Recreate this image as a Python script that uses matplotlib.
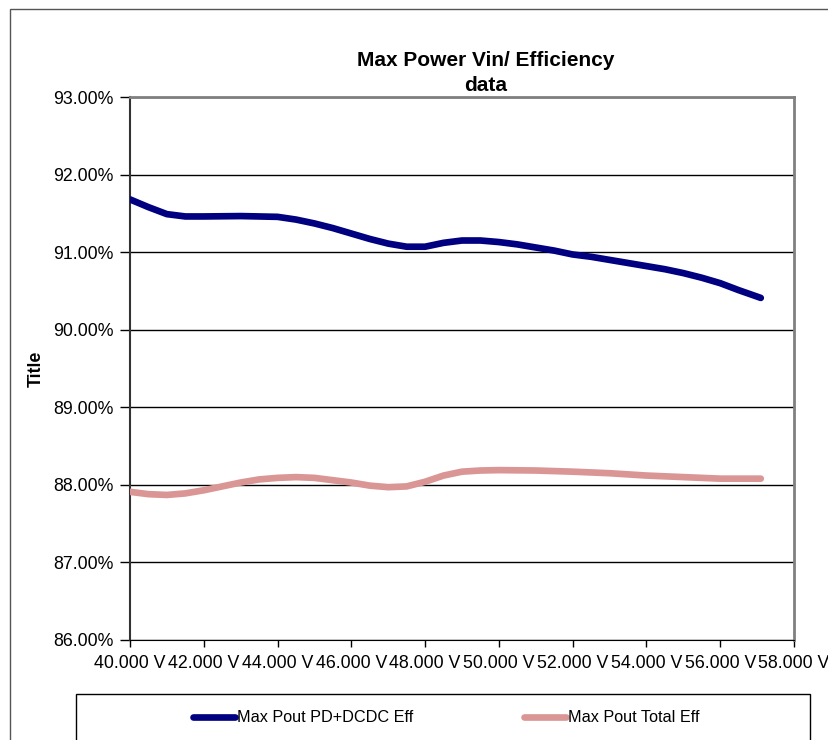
import numpy as np
import matplotlib.pyplot as plt
from matplotlib.patches import Rectangle
from matplotlib.ticker import FuncFormatter, MultipleLocator

plt.rcParams['font.family'] = ['Liberation Sans', 'DejaVu Sans']

# Vin (V) and efficiency (%)
vin_pd = [40.0, 40.5, 41.0, 41.5, 42.0, 43.0, 44.0, 44.5, 45.0, 45.5, 46.0, 46.5,
          47.0, 47.5, 48.0, 48.5, 49.0, 49.5, 50.0, 50.5, 51.0, 51.5, 52.0, 52.5,
          53.0, 53.5, 54.0, 54.5, 55.0, 55.5, 56.0, 56.5, 57.1]
eff_pd = [91.68, 91.58, 91.49, 91.46, 91.46, 91.465, 91.455, 91.42, 91.37, 91.31, 91.24, 91.17,
          91.11, 91.07, 91.07, 91.12, 91.15, 91.15, 91.13, 91.10, 91.06, 91.02, 90.97, 90.94,
          90.90, 90.86, 90.82, 90.78, 90.73, 90.67, 90.60, 90.51, 90.41]

vin_tot = [40.0, 40.5, 41.0, 41.5, 42.0, 42.5, 43.0, 43.5, 44.0, 44.5, 45.0, 45.5,
           46.0, 46.5, 47.0, 47.5, 48.0, 48.5, 49.0, 49.5, 50.0, 51.0, 52.0, 53.0,
           54.0, 55.0, 56.0, 57.1]
eff_tot = [87.91, 87.88, 87.87, 87.89, 87.93, 87.98, 88.03, 88.07, 88.09, 88.10, 88.09, 88.06,
           88.03, 87.99, 87.97, 87.98, 88.04, 88.12, 88.17, 88.185, 88.19, 88.185, 88.17, 88.15,
           88.12, 88.10, 88.08, 88.08]

W, H = 829, 740
fig = plt.figure(figsize=(W / 100, H / 100), dpi=100)

def fx(px):
    return px / W

def fy(py):
    return 1 - py / H

# outer chart border
fig.patches.append(Rectangle((fx(10), fy(760)), fx(840), fy(9) - fy(760), transform=fig.transFigure,
                             fill=False, edgecolor='#555555', lw=1.0))
# legend box
fig.patches.append(Rectangle((fx(76), fy(760)), fx(810) - fx(76), fy(694) - fy(760), transform=fig.transFigure,
                             fill=False, edgecolor='black', lw=1.0))

ax = fig.add_axes([fx(130), fy(640), fx(794) - fx(130), fy(97) - fy(640)])

ax.plot(vin_pd, eff_pd, color='#000080', lw=4.8, solid_capstyle='round', solid_joinstyle='round',
        label='Max Pout PD+DCDC Eff', zorder=3)
ax.plot(vin_tot, eff_tot, color='#DA9694', lw=4.8, solid_capstyle='round', solid_joinstyle='round',
        label='Max Pout Total Eff', zorder=3)

ax.set_xlim(40, 58)
ax.set_ylim(86, 93)
ax.xaxis.set_major_locator(MultipleLocator(2))
ax.yaxis.set_major_locator(MultipleLocator(1))
ax.xaxis.set_major_formatter(FuncFormatter(lambda v, p: '%.3f V' % v))
ax.yaxis.set_major_formatter(FuncFormatter(lambda v, p: '%.2f%%' % v))

ax.grid(axis='y', color='black', lw=1.0)
ax.set_axisbelow(True)
ax.tick_params(direction='out', length=7, width=1, labelsize=12.8, colors='black', pad=5)
ax.tick_params(axis='x', length=5, pad=6)

for s in ['top', 'right']:
    ax.spines[s].set_color('#808080')
    ax.spines[s].set_linewidth(2)
ax.spines['left'].set_color('#333333')
ax.spines['left'].set_linewidth(1.5)
ax.spines['bottom'].set_color('black')

ax.set_ylabel('Title', fontsize=12.8, fontweight='bold', labelpad=6)

fig.text(fx(486), fy(73), 'Max Power Vin/ Efficiency\ndata', ha='center', va='center',
         fontsize=15, fontweight='bold', linespacing=1.45)

fig.legend(loc='center', bbox_to_anchor=(fx(446), fy(718)), ncol=2, frameon=False,
           fontsize=11.7, handlelength=2.6, handletextpad=0.12, columnspacing=6.8)

plt.savefig('out.png', dpi=100)
plt.close()
